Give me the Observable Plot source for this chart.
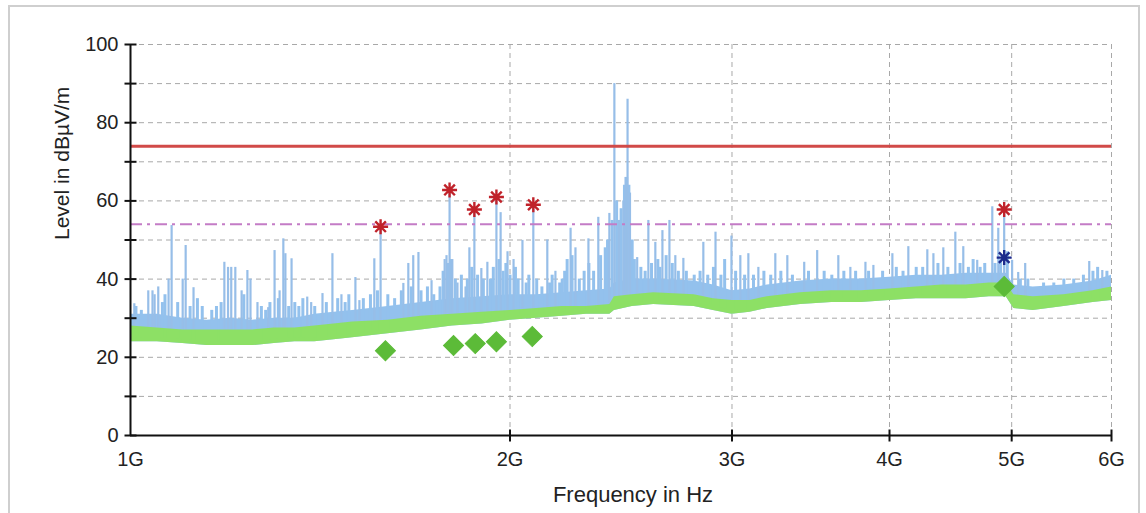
<!DOCTYPE html>
<html><head><meta charset="utf-8">
<script src="https://cdn.jsdelivr.net/npm/d3@7"></script>
<script src="https://cdn.jsdelivr.net/npm/@observablehq/plot@0.6"></script>
<style>
body{margin:0;background:#fff;}
#wrap{position:relative;width:1146px;height:513px;overflow:hidden;background:#fff;}
#frame{position:absolute;left:8px;top:5px;width:1132px;height:530px;border:2px solid #cfcfcf;box-sizing:border-box;}
#chart{position:absolute;left:0;top:0;}
</style></head><body>
<div id="wrap"><div id="frame"></div><div id="chart"></div></div>
<script>
// ---- data (frequency in GHz, level in dBµV/m) ----
const bandFreq  = [1.0,1.05,1.1,1.15,1.2,1.25,1.3,1.35,1.4,1.45,1.5,1.6,1.7,1.8,1.9,2.0,2.1,2.2,2.3,2.4,2.42,2.5,2.6,2.8,2.9,3.0,3.1,3.2,3.4,3.6,3.8,4.0,4.2,4.4,4.6,4.8,4.95,5.02,5.2,5.5,5.8,6.0];
const peakFloor = [31,31,30,29.5,30,29.5,30,30,31,31.5,32,33,34,35,35.5,36,36,36.5,37,37.5,39,40,40,39.5,38.5,37,37.5,38.5,39.5,40,40,40.5,41,41,41.5,41.5,41.5,38.5,38,38.5,39.5,41];
const avgHigh   = [28,27.5,27,27,27,27,27.5,27.5,28,28.5,29,29.5,30.5,31,31.5,32,32.5,33,33,33.5,35.5,36,36.5,36,35,34.5,34.5,35.5,36.5,37,37,37.5,38,38.5,38.5,39,39,36,35.5,36,37,38];
const avgLow    = [24,24,23.5,23,23,23,23.5,24,24,24.5,25,26,27,28,28.5,29.5,30,30.5,31,31,32,33,33.5,33,32,31,31.5,32.5,33.5,34,34,34.5,35,35,35,35.5,35.5,32.5,32,33,34,34.5];

// isolated peaks of the peak trace
const spikeFreq = [1.007,1.033,1.041,1.045,1.052,1.072,1.078,1.100,1.106,1.122,1.187,1.195,1.202,1.211,1.225,1.238,1.245,1.261,1.286,1.301,1.313,1.322,1.327,1.342,1.381,1.391,1.420,1.446,1.470,1.508,1.519,1.561,1.579,1.646,1.661,1.676,1.692,1.733,1.775,1.781,1.791,1.800,1.817,1.844,1.857,1.874,1.898,1.919,1.951,1.966,1.991,2.013,2.046,2.087,2.141,2.173,2.234,2.254,2.308,2.350,2.398,2.420,2.440,2.460,2.470,2.479,2.490,2.523,2.575,2.608,2.642,2.676,2.705,2.745,2.847,2.911,2.997,3.046,3.091,3.148,3.247,3.319,3.423,3.505,3.643,3.724,3.828,3.884,4.021,4.140,4.286,4.334,4.413,4.511,4.577,4.695,4.826,4.879,4.932,5.004,5.060,5.125,5.761,5.900];
const spikePeak = [33.7,37,37,36,38,40,53.7,40,48.6,37.8,44.3,43,43,43,37,42.2,40,34,32.7,47.3,37,50.3,46.5,45.2,35.4,34,36.3,46.5,36,40.4,34.5,45.2,53.4,38.9,44,46,46.8,39.6,45,46,62.8,45,39,38,48,57.8,42.7,44.3,61,57,47,45,49.9,59,50,42,53,48,50.3,55.8,56.8,90,55,60,66,86,62,45.5,55,49.4,52.4,55,46,45.3,49.4,52,51,46,46.5,43,46.5,46,44.3,47.3,46,43,44.3,43.5,46.5,48.3,47.5,46.5,48,52,48.3,44.8,58.5,53,57.8,44.8,41.7,44,44.5,42.2];

// dense low clutter of the peak trace
const clutterFreq = [1.01,1.02,1.06,1.065,1.09,1.115,1.13,1.14,1.16,1.17,1.18,1.23,1.27,1.28,1.29,1.31,1.335,1.35,1.36,1.37,1.40,1.43,1.46,1.48,1.49,1.53,1.55,1.57,1.60,1.62,1.64,1.67,1.70,1.72,1.74,1.76,1.77,1.785,1.795,1.81,1.83,1.85,1.865,1.885,1.905,1.93,1.94,1.96,1.975,1.985,2.0,2.02,2.03,2.06,2.07,2.10,2.12,2.15,2.16,2.19,2.20,2.21,2.22,2.24,2.27,2.29,2.31,2.33,2.36,2.38,2.39,2.41,2.43,2.45,2.465,2.475,2.485,2.50,2.51,2.54,2.56,2.59,2.62,2.63,2.66,2.69,2.72,2.76,2.80,2.83,2.87,2.90,2.94,2.96,3.02,3.07,3.12,3.18,3.22,3.28,3.35,3.45,3.55,3.60,3.68,3.76,3.85,3.95,4.05,4.10,4.20,4.25,4.37,4.45,4.55,4.62,4.66,4.72,4.76,4.85,4.90,4.96,5.08,5.15,5.30,5.40,5.50,5.60,5.70,5.80,5.85,5.95];
const clutterPeak = [33,32,34,36,34,33,35,33,32,33,34,36,33,32,34,35,33,34,33,35,33,34,35,34,36,35,36,37,36,35,37,38,37,38,36,38,42,44,45,40,41,40,43,41,40,40,43,45,42,44,41,43,40,39,41,40,38,39,41,39,40,42,45,46,40,42,44,42,46,48,50,55,60,58,64,66,64,50,45,43,42,44,45,43,46,44,42,42,41,42,41,43,41,45,42,41,41,42,41,42,41,42,42,41,42,42,42,42,43,42,43,43,44,43,44,43,45,43,44,44,45,47,40,40,39,39,40,40,41,42,43,42];

const peakMarkFreq  = [1.579,1.791,1.874,1.951,2.087,4.932];
const peakMarkLevel = [53.4,62.8,57.8,61,59,57.8];
const qpMarkFreq    = [4.932];
const qpMarkLevel   = [45.5];
const avgMarkFreq   = [1.593,1.804,1.877,1.951,2.083,4.932];
const avgMarkLevel  = [21.7,23,23.5,24,25.3,38.1];

const limitPeak = 74;
const limitAvg  = 54;

const yTicks  = [0,20,40,60,80,100];
const yMinor  = [0,10,20,30,40,50,60,70,80,90,100];
const yGrid   = [10,20,30,40,50,60,70,80,90,100];
const xTicks  = [1,2,3,4,5,6];
const xLabels = ["1G","2G","3G","4G","5G","6G"];
const xGrid   = [2,3,4,5,6];

// ---- tables ----
const band = bandFreq.map((f,i)=>({f, pk: peakFloor[i], aHi: avgHigh[i], aLo: avgLow[i]}));
const baseAt = d3.scaleLog().domain(bandFreq).range(avgLow);
const spikes = spikeFreq.map((f,i)=>({f, peak: spikePeak[i], base: baseAt(f)+1}));
const clutter = clutterFreq.map((f,i)=>({f, peak: clutterPeak[i], base: baseAt(f)+1}));
const pk = peakMarkFreq.map((f,i)=>({f, v: peakMarkLevel[i]}));
const qp = qpMarkFreq.map((f,i)=>({f, v: qpMarkLevel[i]}));
const av = avgMarkFreq.map((f,i)=>({f, v: avgMarkLevel[i]}));

// ---- custom symbols ----
const hTick = {draw(c,s){const r=Math.sqrt(s/Math.PI); c.moveTo(-r,0); c.lineTo(r,0);}};
const vTick = {draw(c,s){const r=Math.sqrt(s/Math.PI); c.moveTo(0,-r); c.lineTo(0,r);}};
const star  = {draw(c,s){const r=Math.sqrt(s/Math.PI); for(let k=0;k<4;k++){const a=k*Math.PI/4; c.moveTo(-r*Math.cos(a),-r*Math.sin(a)); c.lineTo(r*Math.cos(a),r*Math.sin(a));}}};

const blue = "#93c1ed", blueSpike = "#97bee8", green = "#8ce25e";

const chart = Plot.plot({
  width: 1146, height: 513,
  marginLeft: 130, marginRight: 35, marginTop: 44, marginBottom: 78,
  style: {background: "transparent", fontFamily: "'Liberation Sans', Arial, sans-serif", fontSize: "20px", color: "#222"},
  x: {type: "log", domain: [1, 6]},
  y: {domain: [0, 100]},
  marks: [
    Plot.ruleY(yGrid, {stroke: "#a8a8a8", strokeDasharray: "5,4", strokeWidth: 1}),
    Plot.ruleX(xGrid, {stroke: "#a8a8a8", strokeDasharray: "5,4", strokeWidth: 1}),
    Plot.areaY(band, {x: "f", y1: "aLo", y2: "pk", fill: blue}),
    Plot.ruleX(clutter, {x: "f", y1: "base", y2: "peak", stroke: blue, strokeWidth: 3}),
    Plot.ruleX(spikes, {x: "f", y1: "base", y2: "peak", stroke: blueSpike, strokeWidth: 2.2}),
    Plot.areaY(band, {x: "f", y1: "aLo", y2: "aHi", fill: green, fillOpacity: 0.95}),
    Plot.ruleY([limitPeak], {stroke: "#d14a48", strokeWidth: 3}),
    Plot.ruleY([limitAvg], {stroke: "#c47cc6", strokeWidth: 2, strokeDasharray: "12,5,3,5"}),
    Plot.dot(av, {x: "f", y: "v", symbol: "square", rotate: 45, r: 8, fill: "#5cbb38", stroke: "#5cbb38", strokeWidth: 1}),
    Plot.dot(pk, {x: "f", y: "v", symbol: star, r: 7.5, stroke: "#c0222a", strokeWidth: 2.4}),
    Plot.dot(qp, {x: "f", y: "v", symbol: star, r: 7.5, stroke: "#1c2a8c", strokeWidth: 2.4}),
    Plot.ruleX([1], {stroke: "#111", strokeWidth: 2}),
    Plot.ruleY([0], {stroke: "#111", strokeWidth: 2}),
    Plot.dot(yMinor, {y: d => d, frameAnchor: "left", symbol: hTick, r: 6, stroke: "#111", strokeWidth: 2}),
    Plot.dot(xGrid, {x: d => d, frameAnchor: "bottom", symbol: vTick, r: 6, stroke: "#111", strokeWidth: 2}),
    Plot.axisY({ticks: yTicks, tickSize: 0, tickPadding: 12, label: null}),
    Plot.axisX({ticks: xTicks, tickFormat: (d) => xLabels[xTicks.indexOf(d)], tickSize: 0, tickPadding: 16, label: null}),
    Plot.text(["Frequency in Hz"], {text: d => d, frameAnchor: "bottom", dx: 12, dy: 66, fontSize: 22}),
    Plot.text(["Level in dBµV/m"], {text: d => d, frameAnchor: "left", dx: -68, rotate: -90, fontSize: 21})
  ]
});
document.getElementById("chart").appendChild(chart);
</script>
</body></html>
